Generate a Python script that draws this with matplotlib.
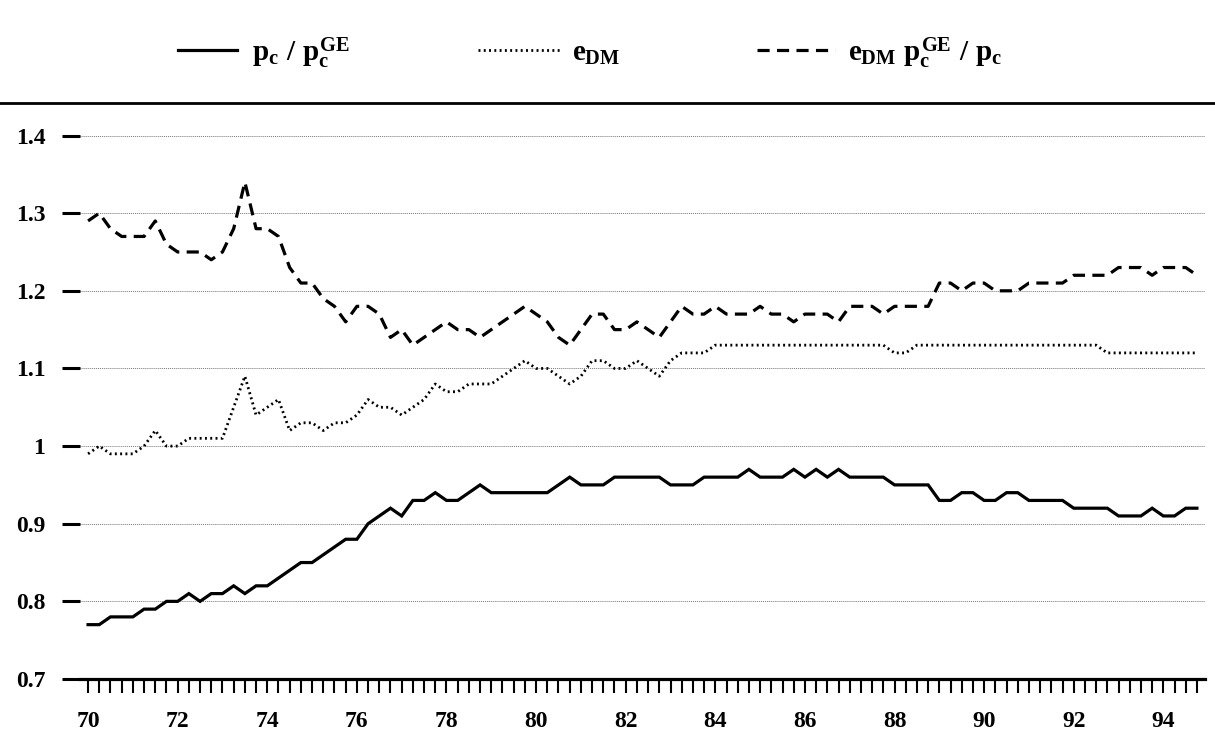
import numpy as np
import matplotlib
matplotlib.use("Agg")
import matplotlib.pyplot as plt
from matplotlib.lines import Line2D
from matplotlib.ticker import MultipleLocator, FormatStrFormatter, FuncFormatter

# --- data: quarterly, 1970Q1 .. 1994Q4 ---
start_year = 70
n_quarters = 100

ratio_pc = [  # p_c / p_c^GE
    0.77, 0.77, 0.78, 0.78, 0.78, 0.79, 0.79, 0.80, 0.80, 0.81,
    0.80, 0.81, 0.81, 0.82, 0.81, 0.82, 0.82, 0.83, 0.84, 0.85,
    0.85, 0.86, 0.87, 0.88, 0.88, 0.90, 0.91, 0.92, 0.91, 0.93,
    0.93, 0.94, 0.93, 0.93, 0.94, 0.95, 0.94, 0.94, 0.94, 0.94,
    0.94, 0.94, 0.95, 0.96, 0.95, 0.95, 0.95, 0.96, 0.96, 0.96,
    0.96, 0.96, 0.95, 0.95, 0.95, 0.96, 0.96, 0.96, 0.96, 0.97,
    0.96, 0.96, 0.96, 0.97, 0.96, 0.97, 0.96, 0.97, 0.96, 0.96,
    0.96, 0.96, 0.95, 0.95, 0.95, 0.95, 0.93, 0.93, 0.94, 0.94,
    0.93, 0.93, 0.94, 0.94, 0.93, 0.93, 0.93, 0.93, 0.92, 0.92,
    0.92, 0.92, 0.91, 0.91, 0.91, 0.92, 0.91, 0.91, 0.92, 0.92,
]

e_dm = [
    0.99, 1.00, 0.99, 0.99, 0.99, 1.00, 1.02, 1.00, 1.00, 1.01,
    1.01, 1.01, 1.01, 1.05, 1.09, 1.04, 1.05, 1.06, 1.02, 1.03,
    1.03, 1.02, 1.03, 1.03, 1.04, 1.06, 1.05, 1.05, 1.04, 1.05,
    1.06, 1.08, 1.07, 1.07, 1.08, 1.08, 1.08, 1.09, 1.10, 1.11,
    1.10, 1.10, 1.09, 1.08, 1.09, 1.11, 1.11, 1.10, 1.10, 1.11,
    1.10, 1.09, 1.11, 1.12, 1.12, 1.12, 1.13, 1.13, 1.13, 1.13,
    1.13, 1.13, 1.13, 1.13, 1.13, 1.13, 1.13, 1.13, 1.13, 1.13,
    1.13, 1.13, 1.12, 1.12, 1.13, 1.13, 1.13, 1.13, 1.13, 1.13,
    1.13, 1.13, 1.13, 1.13, 1.13, 1.13, 1.13, 1.13, 1.13, 1.13,
    1.13, 1.12, 1.12, 1.12, 1.12, 1.12, 1.12, 1.12, 1.12, 1.12,
]

e_dm_adj = [  # e_DM * p_c^GE / p_c
    1.29, 1.30, 1.28, 1.27, 1.27, 1.27, 1.29, 1.26, 1.25, 1.25,
    1.25, 1.24, 1.25, 1.28, 1.34, 1.28, 1.28, 1.27, 1.23, 1.21,
    1.21, 1.19, 1.18, 1.16, 1.18, 1.18, 1.17, 1.14, 1.15, 1.13,
    1.14, 1.15, 1.16, 1.15, 1.15, 1.14, 1.15, 1.16, 1.17, 1.18,
    1.17, 1.16, 1.14, 1.13, 1.15, 1.17, 1.17, 1.15, 1.15, 1.16,
    1.15, 1.14, 1.16, 1.18, 1.17, 1.17, 1.18, 1.17, 1.17, 1.17,
    1.18, 1.17, 1.17, 1.16, 1.17, 1.17, 1.17, 1.16, 1.18, 1.18,
    1.18, 1.17, 1.18, 1.18, 1.18, 1.18, 1.21, 1.21, 1.20, 1.21,
    1.21, 1.20, 1.20, 1.20, 1.21, 1.21, 1.21, 1.21, 1.22, 1.22,
    1.22, 1.22, 1.23, 1.23, 1.23, 1.22, 1.23, 1.23, 1.23, 1.22,
]

labels = [r'$p_c\ /\ p_c^{GE}$', r'$e_{DM}$', r'$e_{DM}\ p_c^{GE}\ /\ p_c$']
y_ticks = [0.7, 0.8, 0.9, 1.0, 1.1, 1.2, 1.3, 1.4]

# --- style ---
plt.rcParams['font.family'] = ['Liberation Serif', 'DejaVu Serif']
plt.rcParams['font.weight'] = 'bold'
plt.rcParams['mathtext.fontset'] = 'custom'
plt.rcParams['mathtext.rm'] = 'Liberation Serif:bold'
plt.rcParams['mathtext.it'] = 'Liberation Serif:bold'
plt.rcParams['mathtext.bf'] = 'Liberation Serif:bold'

styles = [
    dict(color='black', lw=2.3, linestyle='-'),
    dict(color='black', lw=2.0, linestyle=(0, (0.7, 1.2))),
    dict(color='black', lw=2.3, linestyle=(0, (3.8, 2.3))),
]

W, H = 1215, 731
x = start_year + np.arange(n_quarters) / 4.0

fig = plt.figure(figsize=(W / 100, H / 100), dpi=100)
ax = fig.add_axes([80 / W, 1 - 679 / H, 1125 / W, 559 / H])

for series, st in zip([ratio_pc, e_dm, e_dm_adj], styles):
    ax.plot(x, series, solid_joinstyle='miter', **st)

ax.set_xlim(69.82, 94.93)
ax.set_ylim(0.7, 1.42)

ax.set_yticks(y_ticks)
ax.yaxis.set_major_formatter(FormatStrFormatter('%g'))
ax.xaxis.set_major_locator(MultipleLocator(2))
ax.xaxis.set_minor_locator(MultipleLocator(0.25))
ax.xaxis.set_major_formatter(FuncFormatter(lambda v, p: f'{int(round(v))}'))

ax.grid(axis='y', color='#777777', lw=0.7, linestyle=(0, (1, 1)))
ax.set_axisbelow(True)

for side in ['top', 'right', 'left']:
    ax.spines[side].set_visible(False)
ax.spines['bottom'].set_linewidth(2.3)

ax.tick_params(axis='y', length=13, width=2.2, pad=12, labelsize=17)
ax.tick_params(axis='x', which='both', length=10, width=1.5, pad=13, labelsize=17)

# thick rule under the legend
fig.add_artist(Line2D([0, 1], [1 - 103 / H, 1 - 103 / H],
                      transform=fig.transFigure, color='black', lw=2))

# legend drawn by hand across the top (sample x-range, label x) in pixels
legend_pos = [(178, 237, 252), (478, 560, 572), (757, 835, 848)]
for (x0, x1, xt), st, lab in zip(legend_pos, styles, labels):
    fig.add_artist(Line2D([x0 / W, x1 / W], [1 - 50 / H, 1 - 50 / H],
                          transform=fig.transFigure, **st))
    fig.text(xt / W, 1 - 61 / H, lab, fontsize=21, ha='left', va='baseline')

fig.savefig('out.png', dpi=100)
